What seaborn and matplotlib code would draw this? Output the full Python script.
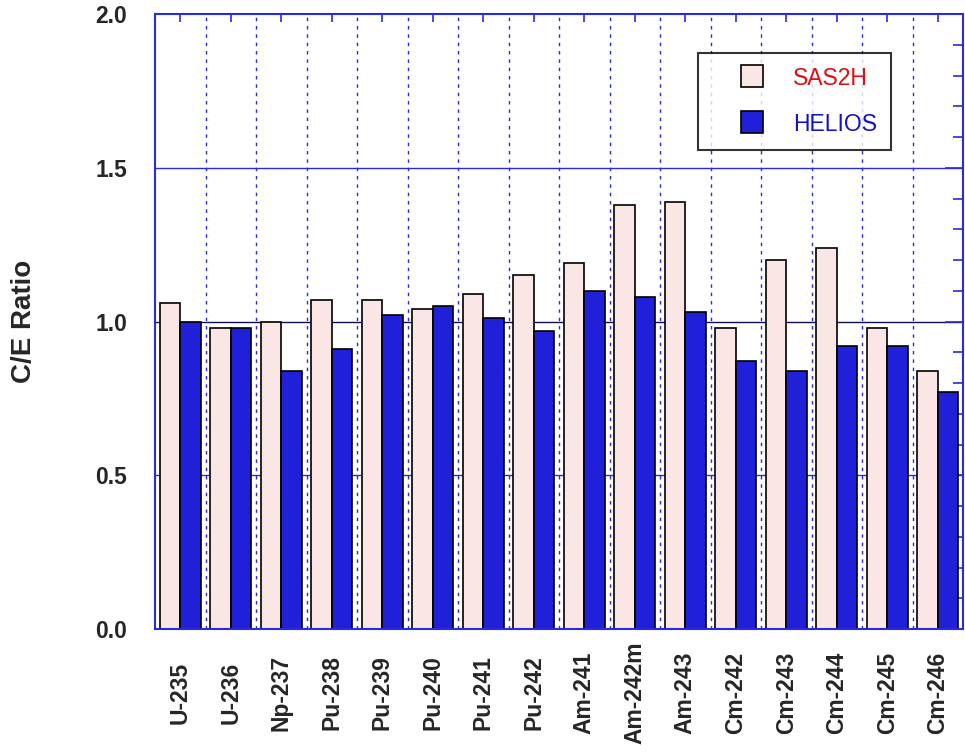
import numpy as np
import pandas as pd
import matplotlib
matplotlib.use('Agg')
import matplotlib.pyplot as plt
import seaborn as sns
from matplotlib.lines import Line2D
from matplotlib.ticker import MultipleLocator, StrMethodFormatter

nuclides = ['U-235', 'U-236', 'Np-237', 'Pu-238', 'Pu-239', 'Pu-240', 'Pu-241', 'Pu-242',
            'Am-241', 'Am-242m', 'Am-243', 'Cm-242', 'Cm-243', 'Cm-244', 'Cm-245', 'Cm-246']
sas2h = [1.06, 0.98, 1.00, 1.07, 1.07, 1.04, 1.09, 1.15,
         1.19, 1.38, 1.39, 0.98, 1.20, 1.24, 0.98, 0.84]
helios = [1.00, 0.98, 0.84, 0.91, 1.02, 1.05, 1.01, 0.97,
          1.10, 1.08, 1.03, 0.87, 0.84, 0.92, 0.92, 0.77]
codes = ['SAS2H', 'HELIOS']

df = pd.DataFrame({
    'nuclide': nuclides * 2,
    'ratio': sas2h + helios,
    'code': [codes[0]] * len(nuclides) + [codes[1]] * len(nuclides),
})

sns.set_style('white')
plt.rcParams['font.family'] = ['Liberation Sans', 'DejaVu Sans']

pink = '#fbe6e6'
blue = '#2020d8'
frame_blue = '#2a2ae0'

fig = plt.figure(figsize=(9.65, 7.54), dpi=100)
ax = fig.add_axes([155 / 965, 1 - 629 / 754, (963 - 155) / 965, (629 - 14) / 754])

# horizontal reference lines behind the bars
ax.axhline(0.5, color=frame_blue, lw=1.0, zorder=0)
ax.axhline(1.5, color=frame_blue, lw=1.0, zorder=0)
ax.axhline(1.0, color='#101050', lw=1.0, zorder=0)

# dotted separators between nuclides
for i in range(len(nuclides) - 1):
    ax.axvline(i + 0.5, color=frame_blue, lw=1.0, ls=(0, (2.5, 3.5)), zorder=0)

sns.barplot(data=df, x='nuclide', y='ratio', hue='code', palette=[pink, blue],
            saturation=1, width=0.82, edgecolor='black', linewidth=1.2,
            ax=ax, zorder=2, legend=False)

ax.set_xlim(-0.5, len(nuclides) - 0.5)
ax.set_ylim(0, 2.0)
ax.set_xlabel('')
ax.set_ylabel('C/E Ratio', fontsize=20, fontweight='bold', labelpad=42)

for s in ax.spines.values():
    s.set_color(frame_blue)
    s.set_linewidth(1.5)

ax.yaxis.set_major_locator(MultipleLocator(0.5))
ax.yaxis.set_minor_locator(MultipleLocator(0.1))
ax.yaxis.set_major_formatter(StrMethodFormatter('{x:.1f}'))
ax.tick_params(axis='y', which='major', direction='in', length=13, width=1.2,
               color=frame_blue, right=True, labelsize=16.5, pad=20)
ax.tick_params(axis='y', which='minor', direction='in', length=7, width=1.2,
               color=frame_blue, right=True)
ax.tick_params(axis='x', direction='in', length=6, width=1.2, color=frame_blue,
               top=True, bottom=False, labelsize=16.5, pad=46)
for lab in ax.get_yticklabels():
    lab.set_fontweight('bold')
for lab in ax.get_xticklabels():
    lab.set_fontweight('bold')
    lab.set_rotation(90)
    lab.set_va('center')

handles = [Line2D([], [], ls='none', marker='s', markersize=16, markerfacecolor=c,
                  markeredgecolor='black', markeredgewidth=1.2) for c in [pink, blue]]
leg = ax.legend(handles, codes, loc='upper left', bbox_to_anchor=(698 / 965, 1 - 53 / 754),
                bbox_transform=fig.transFigure, fontsize=16.5, frameon=True,
                fancybox=False, borderpad=0.6, handlelength=3.5, handleheight=1.0,
                handletextpad=0.05, labelspacing=1.0, borderaxespad=0)
leg.get_frame().set_edgecolor('black')
leg.get_frame().set_linewidth(1.5)
for txt, col in zip(leg.get_texts(), ['#e01010', '#1010d0']):
    txt.set_color(col)

fig.savefig('out.png', dpi=100)
